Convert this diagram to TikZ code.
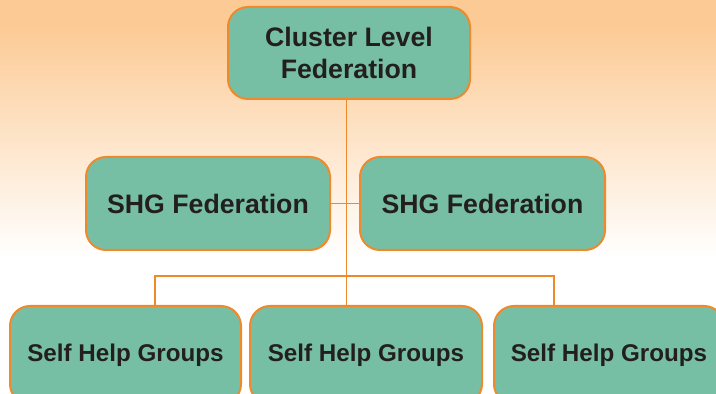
\documentclass[tikz,border=0pt]{standalone}
\usepackage{fontspec}
\setmainfont{Liberation Sans}
\definecolor{boxfill}{HTML}{76BFA4}
\definecolor{boxline}{HTML}{EF8A2C}
\definecolor{bgtop}{HTML}{FCCA94}
\definecolor{txt}{HTML}{231F20}
\begin{document}
\begin{tikzpicture}[x=1pt,y=1pt,
  orgbox/.style={draw=boxline, line width=2pt, fill=boxfill, rounded corners=20pt,
    inner sep=0pt, text=txt, align=center},
  bigtext/.style={font=\fontsize{26.7}{32}\selectfont\bfseries},
  smalltext/.style={font=\fontsize{24.2}{29}\selectfont\bfseries},
  link/.style={draw=boxline, line width=1.2pt}]
\useasboundingbox (0,0) rectangle (716,394);
\clip (0,0) rectangle (716,394);
\fill[white] (0,0) rectangle (716,394);
\fill[bgtop] (0,370) rectangle (716,394);
\shade[top color=bgtop, bottom color=white] (0,137) rectangle (716,370);
% nodes
\node[orgbox, bigtext, minimum width=242pt, minimum height=92pt] (top) at (349,341) {Cluster Level\\Federation};
\node[orgbox, bigtext, minimum width=244pt, minimum height=93pt] (shgL) at (208,190.5) {SHG Federation};
\node[orgbox, bigtext, minimum width=245pt, minimum height=93pt] (shgR) at (482.5,190.5) {SHG Federation};
\node[orgbox, smalltext, minimum width=231pt, minimum height=98pt] (sL) at (125.5,39) {Self Help Groups};
\node[orgbox, smalltext, minimum width=232pt, minimum height=98pt] (sM) at (366,39) {Self Help Groups};
\node[orgbox, smalltext, minimum width=230pt, minimum height=98pt] (sR) at (609,39) {Self Help Groups};
% junction coordinates
\coordinate (vx) at (346.5,200);
\coordinate (bl) at (155,118);
\coordinate (br) at (554,118);
% connectors
\path[link] (top.south -| vx) -- (sM.north -| vx);
\path[link] (shgL.east) -- (shgR.west);
\path[link] (sL.north -| bl) -- (bl) -- (br) -- (sR.north -| br);
\end{tikzpicture}
\end{document}
